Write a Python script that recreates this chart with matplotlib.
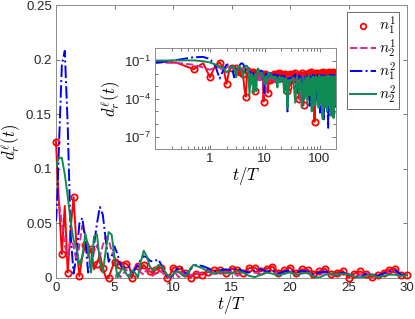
import numpy as np
import matplotlib
matplotlib.use("Agg")
import matplotlib.pyplot as plt
from matplotlib.lines import Line2D
from matplotlib.ticker import FixedLocator, FuncFormatter, LogLocator, NullFormatter

plt.rcParams['font.family'] = ['Liberation Sans', 'DejaVu Sans']
plt.rcParams['mathtext.fontset'] = 'cm'

# ---------------- data ----------------
# time grid for main panel (t/T)
t_a = [0, 0.1, 0.25, 0.5, 0.75, 1.0, 1.25, 1.5, 1.75, 2.0, 2.25, 2.5, 2.75, 3.0, 3.25, 3.5, 3.75,
       4.0, 4.25, 4.5, 4.75, 5.0, 5.25, 5.5, 5.75, 6.0, 6.25, 6.5, 6.75, 7.0, 7.25, 7.5, 7.75,
       8.0, 8.25, 8.5, 8.75, 9.0, 9.25, 9.5, 9.75, 10.0, 10.25, 10.5, 10.75, 11.0, 11.25, 11.5,
       11.75, 12.0]
t_b = [12.5, 13.0, 13.5, 14.0, 14.5, 15.0, 15.5, 16.0, 16.5, 17.0, 17.5, 18.0, 18.5, 19.0,
       19.5, 20.0, 20.5, 21.0, 21.5, 22.0, 22.5, 23.0, 23.5, 24.0, 24.5, 25.0, 25.5, 26.0,
       26.5, 27.0, 27.5, 28.0, 28.5, 29.0, 29.5, 30.0]
# long-time grid (inset only)
t_ext = [33, 36, 39, 42, 45, 48, 51, 54, 57, 60, 63, 66, 69, 72, 75, 78, 81, 84, 87, 90,
         93, 96, 99, 102, 105, 108, 111, 114, 117, 120, 123, 126, 129, 132, 135, 138, 141,
         144, 147, 150, 153, 156, 159, 162, 165, 168, 171, 174, 177, 180, 183, 186, 189,
         192, 195, 198]

# n_1^1
n11_a = [0.125, 0.1, 0.07, 0.022, 0.066, 0.005, 0.045, 0.074, 0.03, 0.0015, 0.02, 0.03, 0.022,
         0.027, 0.008, 0.013, 0.022, 0.009, 0.0006, 0.00015, 0.008, 0.015, 0.016, 0.012, 0.014,
         0.013, 0.011, 0.0004, 0.009, 0.011, 0.008, 0.012, 0.009, 0.006, 0.005, 0.007, 0.009,
         0.009, 0.006, 0.00006, 0.003, 0.009, 0.01, 0.008, 0.008, 0.005, 0.002, 0.0003, 0.003,
         0.004]
n11_b = [0.003, 0.0055, 0.007, 0.007, 0.0045, 0.0085, 0.0075, 0.005, 0.009, 0.0095, 0.006,
         0.0085, 0.0105, 0.005, 0.007, 0.0095, 0.0045, 0.008, 0.0075, 0.004, 0.006, 0.0085,
         0.0035, 0.005, 0.0065, 0.0004, 0.004, 0.006, 0.0035, 0.0008, 0.0025, 0.005, 0.0075,
         0.0085, 0.003, 0.003]
n11_ext = [0.009, 0.011, 0.006, 0.0001, 0.008, 0.012, 0.00003, 0.007, 0.010, 0.002, 0.011,
           0.008, 0.013, 0.006, 0.010, 0.009, 0.0000015, 0.008, 0.012, 0.007, 0.010, 0.011,
           0.0004, 0.009, 0.012, 0.007, 0.010, 0.013, 0.0001, 0.009, 0.011, 0.008, 0.012,
           0.010, 0.006, 0.0002, 0.011, 0.009, 0.013, 0.008, 0.010, 0.012, 0.007, 0.000009,
           0.010, 0.012, 0.008, 0.011, 0.009, 0.013, 0.007, 0.010, 0.00025, 0.011, 0.009, 0.012]

# n_2^1
n21_a = [0.074, 0.075, 0.07, 0.05, 0.03, 0.02, 0.035, 0.03, 0.015, 0.03, 0.048, 0.04, 0.02,
         0.008, 0.025, 0.03, 0.02, 0.03, 0.038, 0.035, 0.025, 0.018, 0.006, 0.0008, 0.004,
         0.008, 0.002, 0.006, 0.01, 0.012, 0.005, 0.003, 0.008, 0.006, 0.002, 0.004, 0.007,
         0.006, 0.003, 0.0008, 0.0002, 0.002, 0.004, 0.0004, 0.005, 0.003, 0.006, 0.002, 0.004,
         0.005]
n21_b = [0.004, 0.006, 0.003, 0.005, 0.004, 0.006, 0.002, 0.004, 0.006, 0.005, 0.003, 0.005,
         0.007, 0.002, 0.005, 0.006, 0.003, 0.0045, 0.006, 0.002, 0.004, 0.005, 0.003, 0.002,
         0.005, 0.004, 0.001, 0.003, 0.005, 0.002, 0.0015, 0.004, 0.006, 0.005, 0.002, 0.003]
n21_ext = [0.005, 0.0008, 0.006, 0.003, 0.00005, 0.005, 0.007, 0.0006, 0.004, 0.006, 0.0001,
           0.005, 0.003, 0.007, 0.00002, 0.005, 0.006, 0.0009, 0.004, 0.007, 0.00004, 0.005,
           0.006, 0.0003, 0.005, 0.004, 0.000005, 0.006, 0.005, 0.0002, 0.007, 0.004, 0.00003,
           0.005, 0.006, 0.0005, 0.004, 0.007, 0.00001, 0.005, 0.006, 0.0002, 0.004, 0.006,
           0.00008, 0.005, 0.007, 0.0004, 0.005, 0.004, 0.00003, 0.006, 0.005, 0.0007, 0.004,
           0.006]

# n_1^2
n12_a = [0.052, 0.07, 0.12, 0.195, 0.208, 0.14, 0.04, 0.004, 0.02, 0.05, 0.055, 0.035, 0.005,
         0.012, 0.03, 0.05, 0.065, 0.058, 0.035, 0.015, 0.02, 0.029, 0.022, 0.012, 0.008, 0.011,
         0.01, 0.005, 0.008, 0.012, 0.017, 0.02, 0.019, 0.016, 0.015, 0.016, 0.017, 0.012,
         0.006, 0.002, 0.0003, 0.003, 0.007, 0.01, 0.009, 0.005, 0.004, 0.008, 0.011, 0.012]
n12_b = [0.011, 0.009, 0.006, 0.007, 0.008, 0.007, 0.009, 0.006, 0.005, 0.007, 0.008, 0.006,
         0.007, 0.004, 0.006, 0.007, 0.005, 0.0065, 0.006, 0.003, 0.005, 0.006, 0.004, 0.003,
         0.005, 0.003, 0.002, 0.00001, 0.004, 0.003, 0.002, 0.004, 0.006, 0.007, 0.003, 0.002]
n12_ext = [0.006, 0.008, 0.0003, 0.007, 0.005, 0.00008, 0.006, 0.008, 0.002, 0.007, 0.005,
           0.00002, 0.006, 0.004, 0.008, 0.0004, 0.006, 0.007, 0.00005, 0.005, 0.008, 0.003,
           0.006, 0.000008, 0.007, 0.005, 0.0006, 0.008, 0.006, 0.000002, 0.005, 0.007, 0.0002,
           0.006, 0.008, 0.00001, 0.005, 0.0000005, 0.007, 0.006, 0.0009, 0.008, 0.005, 0.00003,
           0.007, 0.006, 0.0001, 0.005, 0.008, 0.000004, 0.006, 0.007, 0.0005, 0.005, 0.008,
           0.00002]

# n_2^2
n22_a = [0.102, 0.106, 0.11, 0.11, 0.095, 0.075, 0.052, 0.035, 0.028, 0.012, 0.02, 0.04, 0.03,
         0.005, 0.038, 0.04, 0.015, 0.005, 0.025, 0.042, 0.04, 0.02, 0.0002, 0.006, 0.01, 0.004,
         0.0003, 0.007, 0.005, 0.0004, 0.015, 0.025, 0.02, 0.011, 0.007, 0.008, 0.012, 0.011,
         0.007, 0.003, 0.0015, 0.003, 0.006, 0.006, 0.003, 0.0015, 0.004, 0.009, 0.012, 0.011]
n22_b = [0.009, 0.006, 0.004, 0.006, 0.005, 0.004, 0.006, 0.005, 0.002, 0.0008, 0.003, 0.005,
         0.004, 0.002, 0.004, 0.005, 0.003, 0.004, 0.005, 0.0015, 0.0003, 0.003, 0.004, 0.003,
         0.004, 0.003, 0.0015, 0.00002, 0.002, 0.003, 0.0008, 0.002, 0.003, 0.003, 0.002, 0.0025]
n22_ext = [0.005, 0.00005, 0.006, 0.0003, 0.004, 0.00002, 0.006, 0.0001, 0.005, 0.00004, 0.007,
           0.0002, 0.004, 0.00001, 0.006, 0.00008, 0.005, 0.00003, 0.006, 0.0005, 0.004,
           0.00002, 0.007, 0.0001, 0.005, 0.00004, 0.006, 0.0000025, 0.004, 0.00006, 0.006,
           0.00002, 0.005, 0.0003, 0.006, 0.00001, 0.004, 0.00009, 0.007, 0.00003, 0.005,
           0.0002, 0.006, 0.000005, 0.004, 0.00005, 0.006, 0.00002, 0.005, 0.000003, 0.006,
           0.0001, 0.004, 0.00003, 0.006, 0.0002]

labels = [r'$n_1^1$', r'$n_2^1$', r'$n_1^2$', r'$n_2^2$']
colors = ['#ff0000', '#d8289a', '#0000ff', '#0f8a52']

# ---------------- figure ----------------
W, H = 415, 319
fig = plt.figure(figsize=(W / 100, H / 100), dpi=100)
ax = fig.add_axes([56 / W, 1 - 278 / H, 351 / W, 273 / H])

t_main = np.array(t_a + t_b)
series_main = [np.array(n11_a + n11_b), np.array(n21_a + n21_b),
               np.array(n12_a + n12_b), np.array(n22_a + n22_b)]
series_ext = [n11_ext, n21_ext, n12_ext, n22_ext]
styles = ['-', '--', '-.', '-']

mk_main = [i for i, tt in enumerate(t_main) if abs(tt * 2 - round(tt * 2)) < 1e-9]

lw = 1.4
for k, (y, c, ls) in enumerate(zip(series_main, colors, styles)):
    if k == 0:
        ax.plot(t_main, y, color=c, ls=ls, lw=lw, marker='o', ms=4.5, mfc='none',
                mew=1.3, markevery=mk_main, clip_on=False, zorder=3)
    else:
        ax.plot(t_main, y, color=c, ls=ls, lw=lw, zorder=3)

ax.set_xlim(0, 30)
ax.set_ylim(0, 0.25)
ax.set_xticks([0, 5, 10, 15, 20, 25, 30])
ax.set_yticks([0, 0.05, 0.1, 0.15, 0.2, 0.25])
ax.yaxis.set_major_formatter(FuncFormatter(lambda v, p: ('%g' % round(v, 3))))
ax.tick_params(direction='in', top=True, right=True, length=3, width=0.5,
               labelsize=9.5, color='#404040', labelcolor='#262626', pad=3)
for s in ax.spines.values():
    s.set_color('#8c8c8c')
    s.set_linewidth(0.7)
ax.set_xlabel(r'$t/T$', fontsize=12, labelpad=0)
ax.set_ylabel(r'$d_r^{\ell}(t)$', fontsize=12, labelpad=2)

handles = [Line2D([], [], color=colors[0], ls='none', marker='o', ms=4, mfc='none', mew=1.3),
           Line2D([], [], color=colors[1], ls='--', lw=lw),
           Line2D([], [], color=colors[2], ls='-.', lw=lw),
           Line2D([], [], color=colors[3], ls='-', lw=lw)]
leg = ax.legend(handles, labels, loc='upper right', bbox_to_anchor=(399 / W, 1 - 12 / H),
                bbox_transform=fig.transFigure, fontsize=11, handlelength=1.7,
                handletextpad=0.2, labelspacing=0.05, borderpad=0.2, borderaxespad=0,
                frameon=True, fancybox=False, edgecolor='#555555', framealpha=1)
leg.get_frame().set_linewidth(0.6)

# ---------------- inset ----------------
ins = fig.add_axes([155.3 / W, 1 - 149.3 / H, (336 - 155.3) / W, (149.3 - 48.3) / H])
t_all = np.concatenate([t_main[1:], np.array(t_ext)])
mk_ins = [i - 1 for i in mk_main if i > 0] + list(range(len(t_main) - 1, len(t_all)))
for k, (ym, ye, c, ls) in enumerate(zip(series_main, series_ext, colors, styles)):
    y = np.concatenate([ym[1:], np.array(ye)])
    if k == 0:
        ins.plot(t_all, y, color=c, ls=ls, lw=lw, marker='o', ms=4.5, mfc='none',
                 mew=1.3, markevery=mk_ins)
    else:
        ins.plot(t_all, y, color=c, ls=ls, lw=lw)
ins.set_xscale('log')
ins.set_yscale('log')
ins.set_xlim(0.1, 200)
ins.set_ylim(1e-8, 1)
ins.xaxis.set_major_locator(FixedLocator([1, 10, 100]))
ins.xaxis.set_major_formatter(FuncFormatter(lambda v, p: '%g' % v))
ins.xaxis.set_minor_locator(LogLocator(base=10, subs=np.arange(2, 10), numticks=20))
ins.xaxis.set_minor_formatter(NullFormatter())
ins.yaxis.set_major_locator(FixedLocator([1e-1, 1e-4, 1e-7]))
ins.yaxis.set_minor_locator(FixedLocator([1e-8, 1e-6, 1e-5, 1e-3, 1e-2, 1]))
ins.yaxis.set_minor_formatter(NullFormatter())
ins.tick_params(which='both', direction='in', top=True, right=True, width=0.5,
                labelsize=9.5, color='#404040', labelcolor='#262626', pad=3)
ins.tick_params(which='major', length=3)
ins.tick_params(which='minor', length=2)
for s in ins.spines.values():
    s.set_color('#8c8c8c')
    s.set_linewidth(0.7)
ins.set_xlabel(r'$t/T$', fontsize=12, labelpad=0)
ins.set_ylabel(r'$d_r^{\ell}(t)$', fontsize=12, labelpad=1)

fig.savefig('out.png', dpi=100)
